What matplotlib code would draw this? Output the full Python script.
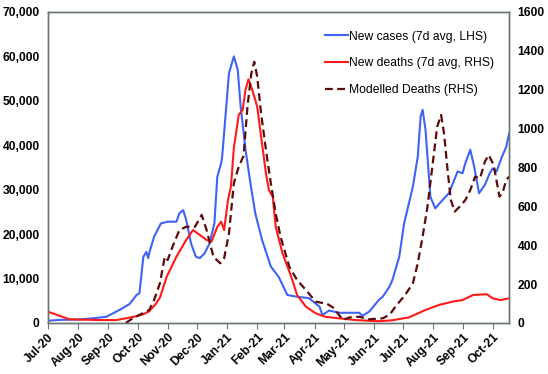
import pandas as pd
import matplotlib.pyplot as plt
import matplotlib.dates as mdates
from matplotlib.ticker import FuncFormatter, MultipleLocator

plt.rcParams['font.family'] = ['Liberation Sans', 'DejaVu Sans']

# New cases, 7 day average (left axis)
case_dates = [
    "2020-07-01", "2020-07-13", "2020-08-03", "2020-08-18", "2020-08-30", "2020-09-13",
    "2020-09-23", "2020-09-30", "2020-10-03", "2020-10-07", "2020-10-10", "2020-10-12",
    "2020-10-13", "2020-10-18", "2020-10-25", "2020-11-01", "2020-11-10", "2020-11-13",
    "2020-11-17", "2020-11-20", "2020-11-25", "2020-11-30", "2020-12-04", "2020-12-09",
    "2020-12-14", "2020-12-19", "2020-12-22", "2020-12-26", "2020-12-27", "2021-01-03",
    "2021-01-08", "2021-01-12", "2021-01-15", "2021-01-20", "2021-01-25", "2021-01-30",
    "2021-02-06", "2021-02-15", "2021-02-23", "2021-03-04", "2021-03-14", "2021-03-26",
    "2021-04-06", "2021-04-09", "2021-04-16", "2021-04-26", "2021-05-17", "2021-05-20",
    "2021-05-27", "2021-05-30", "2021-06-06", "2021-06-10", "2021-06-17", "2021-06-20",
    "2021-06-27", "2021-07-02", "2021-07-11", "2021-07-16", "2021-07-19", "2021-07-21",
    "2021-07-24", "2021-07-29", "2021-08-03", "2021-08-09", "2021-08-17", "2021-08-26",
    "2021-08-31", "2021-09-03", "2021-09-08", "2021-09-12", "2021-09-17", "2021-09-23",
    "2021-09-28", "2021-10-01", "2021-10-05", "2021-10-10", "2021-10-15", "2021-10-18",
]
new_cases = [
    500, 700, 800, 1100, 1400, 3000,
    4300, 6300, 6700, 14900, 16000, 14600,
    15700, 19400, 22400, 22800, 22800, 24700,
    25400, 23200, 17900, 14900, 14600, 15700,
    17900, 22400, 32900, 36000, 37400, 56200,
    60000, 57000, 48700, 39000, 31500, 24700,
    18700, 12700, 10400, 6300, 5900, 5600,
    3700, 1800, 2800, 2300, 2300, 1600,
    2550, 3300, 5200, 5900, 8200, 9700,
    14900, 22400, 30700, 37400, 46500, 48000,
    43500, 28400, 25800, 27300, 29200, 34100,
    33700, 36000, 39000, 35200, 29200, 31100,
    33700, 34800, 34100, 37100, 39700, 42700,
]

# New deaths, 7 day average (right axis)
death_dates = [
    "2020-07-01", "2020-07-23", "2020-08-23", "2020-09-09", "2020-09-19", "2020-09-30",
    "2020-10-07", "2020-10-13", "2020-10-20", "2020-10-24", "2020-10-31", "2020-11-10",
    "2020-11-20", "2020-11-27", "2020-12-04", "2020-12-11", "2020-12-16", "2020-12-22",
    "2020-12-26", "2020-12-29", "2021-01-02", "2021-01-05", "2021-01-08", "2021-01-13",
    "2021-01-17", "2021-01-20", "2021-01-23", "2021-01-27", "2021-02-01", "2021-02-05",
    "2021-02-10", "2021-02-13", "2021-02-17", "2021-02-20", "2021-02-27", "2021-03-08",
    "2021-03-14", "2021-03-23", "2021-04-02", "2021-04-12", "2021-04-26", "2021-05-13",
    "2021-06-06", "2021-06-20", "2021-07-07", "2021-07-24", "2021-08-07", "2021-08-21",
    "2021-08-31", "2021-09-11", "2021-09-25", "2021-10-01", "2021-10-09", "2021-10-18",
]
new_deaths = [
    58, 19, 15, 15, 24, 35,
    45, 60, 100, 130, 238, 341,
    427, 478, 453, 427, 418, 495,
    521, 478, 633, 701, 900, 1070,
    1096, 1199, 1254, 1199, 1113, 959,
    770, 684, 650, 495, 359, 238,
    144, 84, 50, 32, 24, 15,
    9, 14, 29, 67, 93, 110,
    118, 144, 148, 127, 118, 127,
]

# Modelled deaths (right axis)
model_dates = [
    "2020-09-19", "2020-09-26", "2020-10-13", "2020-10-18", "2020-10-24", "2020-10-29",
    "2020-11-01", "2020-11-06", "2020-11-13", "2020-11-20", "2020-11-29", "2020-12-06",
    "2020-12-11", "2020-12-18", "2020-12-25", "2020-12-29", "2021-01-03", "2021-01-08",
    "2021-01-13", "2021-01-18", "2021-01-22", "2021-01-26", "2021-01-29", "2021-02-01",
    "2021-02-05", "2021-02-10", "2021-02-15", "2021-02-20", "2021-02-25", "2021-03-06",
    "2021-03-14", "2021-03-23", "2021-04-02", "2021-04-14", "2021-04-21", "2021-04-30",
    "2021-05-07", "2021-05-17", "2021-05-27", "2021-06-10", "2021-06-13", "2021-06-17",
    "2021-06-23", "2021-07-03", "2021-07-11", "2021-07-16", "2021-07-21", "2021-07-26",
    "2021-07-31", "2021-08-05", "2021-08-09", "2021-08-12", "2021-08-16", "2021-08-19",
    "2021-08-23", "2021-08-28", "2021-09-03", "2021-09-08", "2021-09-13", "2021-09-18",
    "2021-09-23", "2021-09-27", "2021-10-02", "2021-10-08", "2021-10-11", "2021-10-15",
    "2021-10-18",
]
modelled_deaths = [
    0, 24, 67, 118, 204, 341,
    324, 393, 478, 495, 495, 556,
    478, 341, 307, 333, 461, 719,
    804, 860, 1113, 1285, 1344, 1267,
    1079, 890, 719, 564, 444, 290,
    221, 170, 110, 98, 76, 15,
    29, 32, 19, 24, 32, 41,
    84, 144, 204, 307, 444, 598,
    804, 1010, 1070, 976, 770, 633,
    573, 598, 633, 684, 753, 744,
    830, 864, 813, 650, 667, 736,
    753,
]

fig = plt.figure(figsize=(5.48, 3.74), dpi=100)
ax1 = fig.add_axes([0.0876, 0.1364, 0.8416, 0.8316])
ax2 = ax1.twinx()

l1, = ax1.plot(pd.to_datetime(case_dates), new_cases, color='#3f63f5', lw=1.5,
               label='New cases (7d avg, LHS)')
l2, = ax2.plot(pd.to_datetime(death_dates), new_deaths, color='#ff1a1a', lw=1.5,
               label='New deaths (7d avg, RHS)')
l3, = ax2.plot(pd.to_datetime(model_dates), modelled_deaths, color='#5c0a0a', lw=1.6,
               ls=(0, (3.5, 2)), label='Modelled Deaths (RHS)')

ax1.set_xlim(pd.Timestamp("2020-07-01"), pd.Timestamp("2021-10-18"))
ax1.set_ylim(0, 70000)
ax2.set_ylim(0, 1600)
ax1.yaxis.set_major_locator(MultipleLocator(10000))
ax2.yaxis.set_major_locator(MultipleLocator(200))
ax1.yaxis.set_major_formatter(FuncFormatter(lambda v, p: f'{int(v):,}'))
ax2.yaxis.set_major_formatter(FuncFormatter(lambda v, p: f'{int(v)}'))

ax1.xaxis.set_major_locator(mdates.MonthLocator())
ax1.xaxis.set_major_formatter(mdates.DateFormatter('%b-%y'))
for lbl in ax1.get_xticklabels():
    lbl.set_rotation(45)
    lbl.set_ha('right')
    lbl.set_rotation_mode('anchor')

ax1.tick_params(axis='x', length=4, width=0.8, color='#6b7575', labelsize=8.7, pad=2)
ax1.tick_params(axis='y', length=0, labelsize=8.7, pad=6)
ax2.tick_params(axis='y', length=0, labelsize=8.7, pad=6)
for lbl in ax1.get_xticklabels() + ax1.get_yticklabels() + ax2.get_yticklabels():
    lbl.set_fontweight('bold')

for ax in (ax1, ax2):
    for sp in ax.spines.values():
        sp.set_color('#6b7575')
        sp.set_linewidth(1.0)

ax2.legend(handles=[l1, l2, l3], loc='upper left', bbox_to_anchor=(0.577, 0.975),
           frameon=False, fontsize=8.7, handlelength=1.9, handletextpad=0.1,
           labelspacing=1.22)

fig.savefig('out.png', dpi=100)
